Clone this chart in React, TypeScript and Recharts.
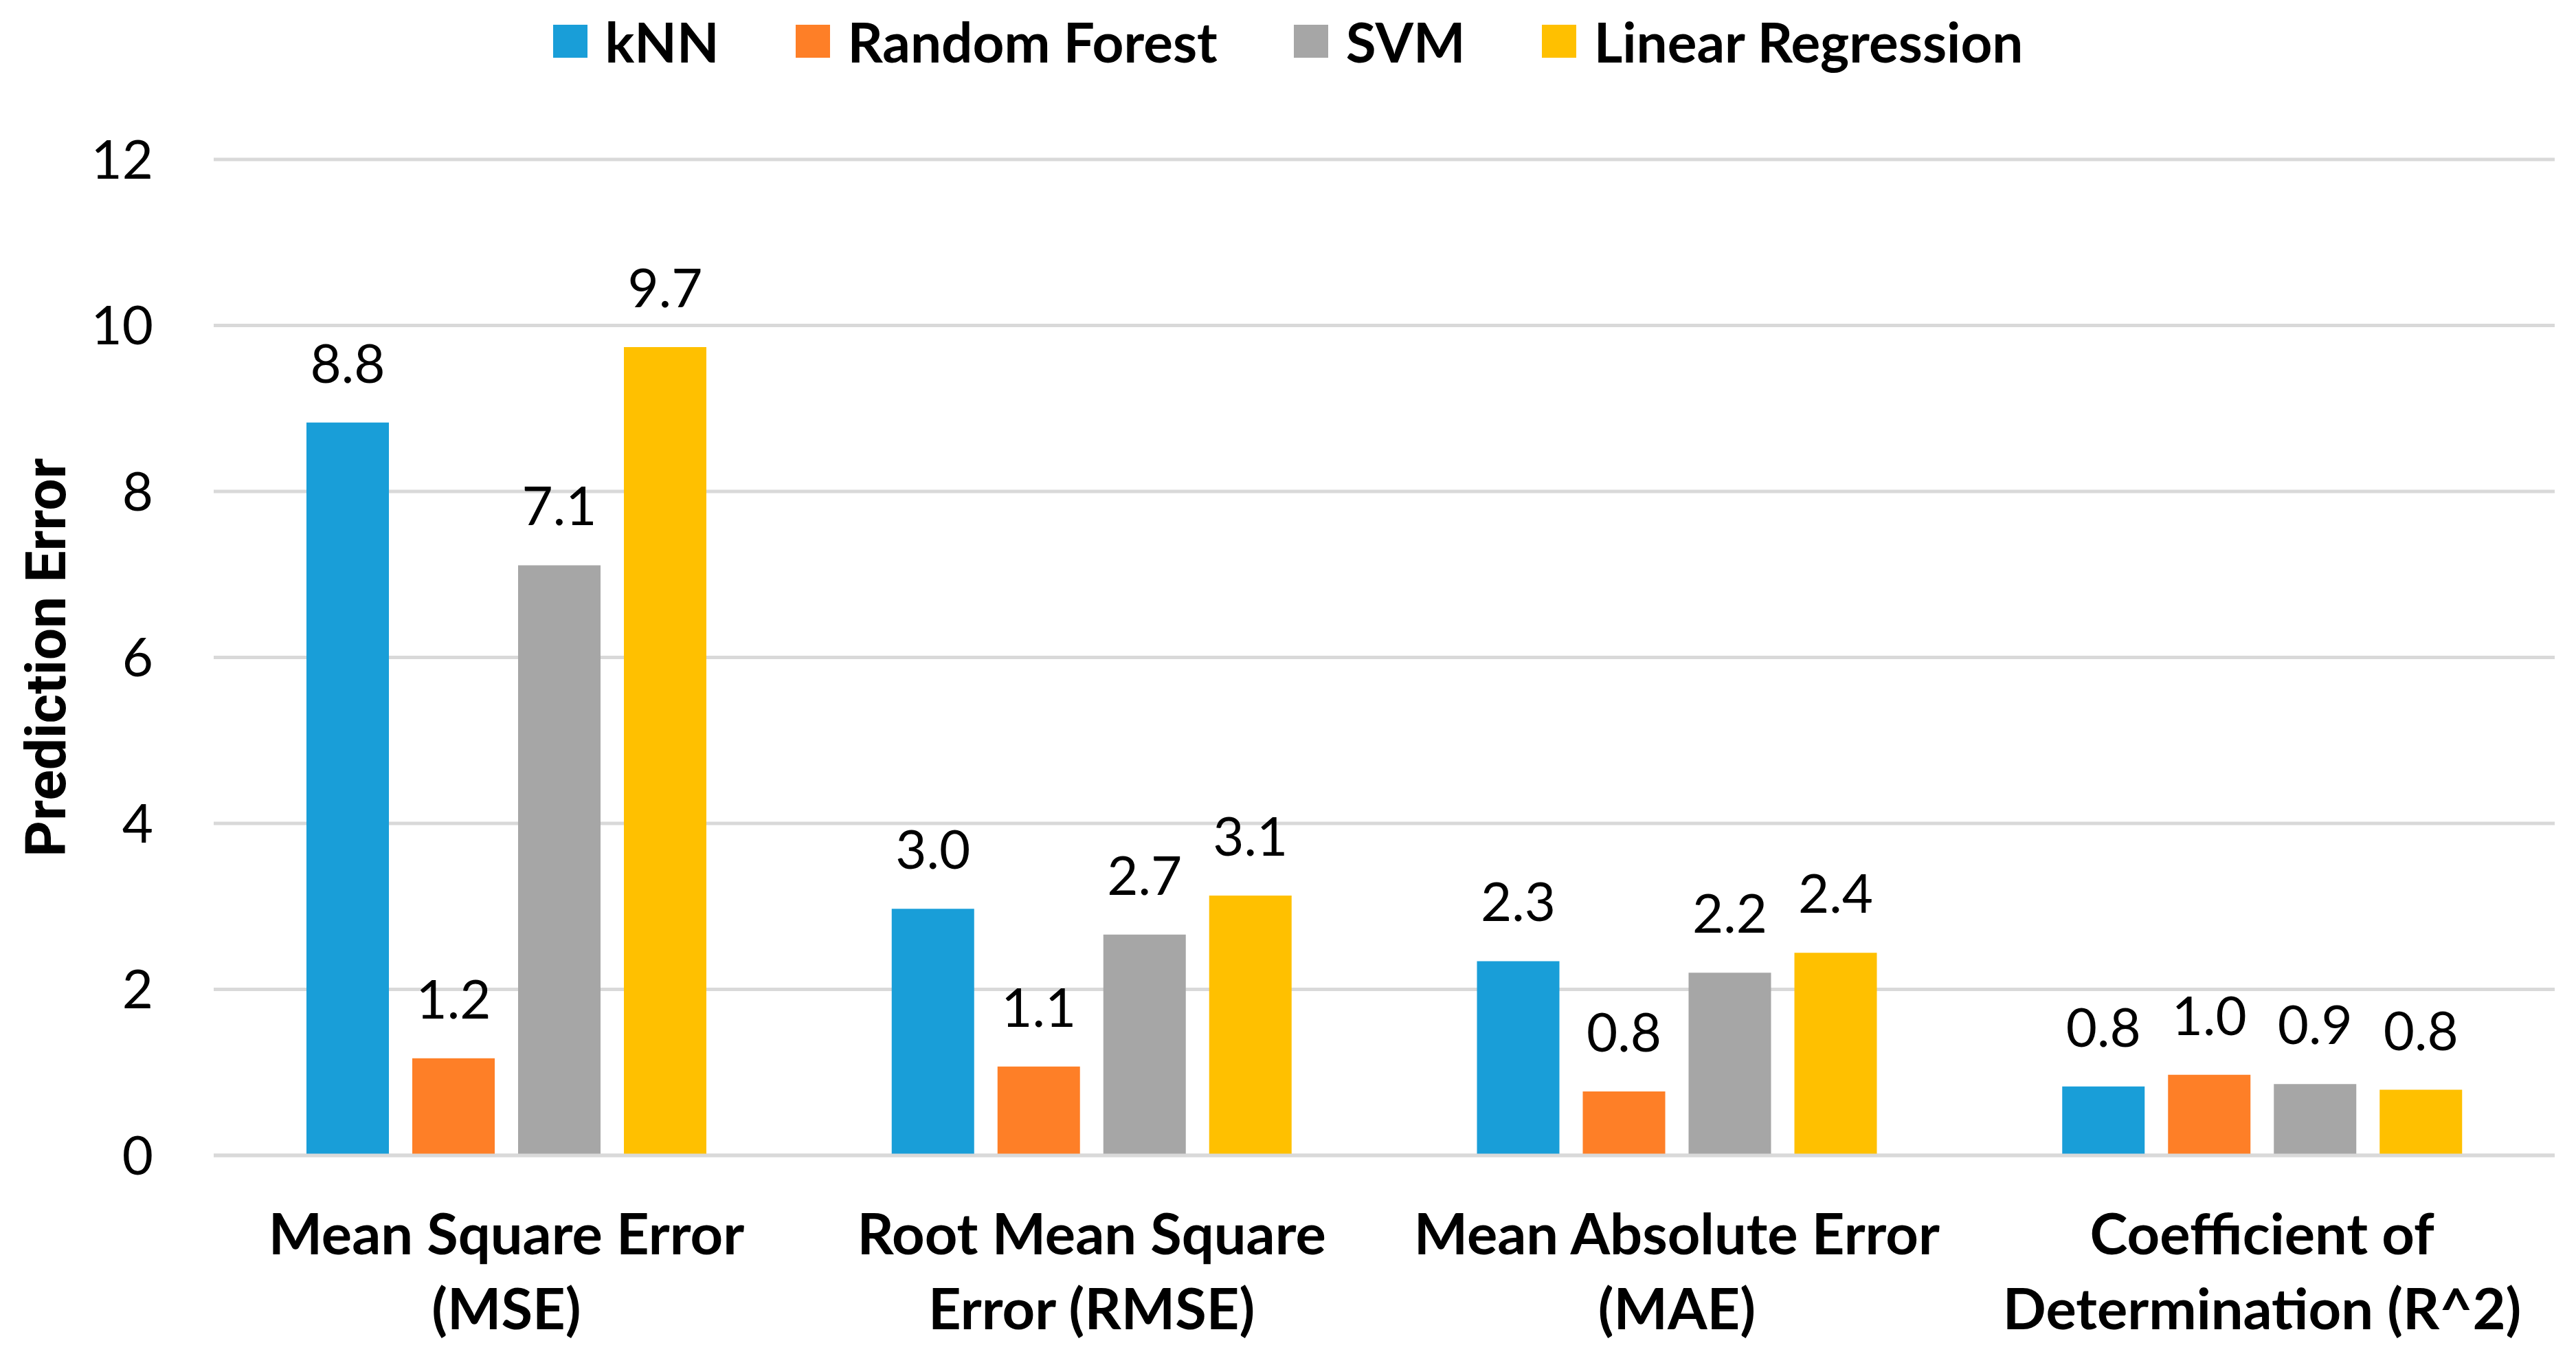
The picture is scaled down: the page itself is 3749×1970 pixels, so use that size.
import React from 'react';
import { BarChart, Bar, XAxis, YAxis, CartesianGrid, Legend, LabelList } from 'recharts';

const categories = ['MSE', 'RMSE', 'MAE', 'R2'];
const categoryLines: string[][] = [
  ['Mean Square Error', '(MSE)'],
  ['Root Mean Square', 'Error (RMSE)'],
  ['Mean Absolute Error', '(MAE)'],
  ['Coefficient of', 'Determination (R^2)'],
];
const knn = [8.83, 2.97, 2.34, 0.83];
const randomForest = [1.17, 1.07, 0.77, 0.97];
const svm = [7.11, 2.66, 2.2, 0.86];
const linearRegression = [9.74, 3.13, 2.44, 0.79];
const yTicks = [0, 2, 4, 6, 8, 10, 12];

const seriesList = [
  { key: 'knn', name: 'kNN', color: '#199ed8', values: knn },
  { key: 'rf', name: 'Random Forest', color: '#fe7f27', values: randomForest },
  { key: 'svm', name: 'SVM', color: '#a6a6a6', values: svm },
  { key: 'lr', name: 'Linear Regression', color: '#ffc000', values: linearRegression },
];

const data = categories.map((c, i) => {
  const row: any = { category: c, idx: i };
  seriesList.forEach((s) => {
    row[s.key] = s.values[i];
  });
  return row;
});

const FONT = 'Lato, "Noto Sans", sans-serif';

const XTick = (props: any) => {
  const { x, y, index } = props;
  const lines = categoryLines[index] || [String(props.payload?.value)];
  return (
    <g>
      {lines.map((ln, i) => (
        <text
          key={i}
          x={x}
          y={y + 144 + i * 109}
          textAnchor="middle"
          fontFamily={FONT}
          fontWeight={700}
          fontSize={83}
          fill="#000"
        >
          {ln}
        </text>
      ))}
    </g>
  );
};

const YLabel = (props: any) => {
  const vb = props.viewBox || { x: 0, y: 232, width: 311, height: 1449 };
  const cx = vb.x + 67;
  const cy = vb.y + vb.height / 2;
  return (
    <text
      x={cx}
      y={cy}
      transform={`rotate(-90, ${cx}, ${cy})`}
      textAnchor="middle"
      dominantBaseline="central"
      fontFamily='Roboto, "Open Sans", sans-serif'
      fontWeight={700}
      fontSize={82}
      fill="#000"
    >
      Prediction Error
    </text>
  );
};

const LegendContent = () => (
  <div
    style={{
      display: 'flex',
      justifyContent: 'center',
      alignItems: 'center',
      fontFamily: FONT,
      fontWeight: 700,
      fontSize: 80,
      lineHeight: 1,
      color: '#000',
    }}
  >
    {seriesList.map((s, i) => (
      <div
        key={s.key}
        style={{ display: 'flex', alignItems: 'center', marginLeft: i === 0 ? 0 : 111 }}
      >
        <div style={{ width: 50, height: 48, background: s.color, marginRight: 26 }} />
        <span>{s.name}</span>
      </div>
    ))}
  </div>
);

export default function App() {
  return (
    <div style={{ position: 'fixed', left: 0, top: 0, width: 3749, height: 1970, background: '#fff' }}>
      <BarChart
        width={3749}
        height={1970}
        data={data}
        margin={{ top: 232, right: 31, bottom: 0, left: 0 }}
        barSize={120}
        barGap={34}
      >
        <CartesianGrid vertical={false} stroke="#d9d9d9" strokeWidth={5} />
        <XAxis
          dataKey="category"
          height={289}
          tickLine={false}
          tickSize={0}
          tickMargin={0}
          axisLine={{ stroke: '#d9d9d9', strokeWidth: 5 }}
          tick={<XTick />}
          interval={0}
        />
        <YAxis
          width={311}
          domain={[0, 12]}
          ticks={yTicks}
          tickLine={false}
          axisLine={false}
          tickSize={0}
          tickMargin={88}
          tick={{ fontFamily: FONT, fontSize: 78, fill: '#000' }}
          label={<YLabel />}
        />
        <Legend
          verticalAlign="middle"
          align="center"
          wrapperStyle={{ top: 20, left: 0, width: 3749 }}
          content={<LegendContent />}
        />
        {seriesList.map((s) => (
          <Bar key={s.key} dataKey={s.key} name={s.name} fill={s.color} isAnimationActive={false}>
            <LabelList
              dataKey={s.key}
              position="top"
              offset={58}
              formatter={(v: any) => Number(v).toFixed(1)}
              style={{ fontFamily: FONT, fontSize: 78, fill: '#000' }}
            />
          </Bar>
        ))}
      </BarChart>
    </div>
  );
}
